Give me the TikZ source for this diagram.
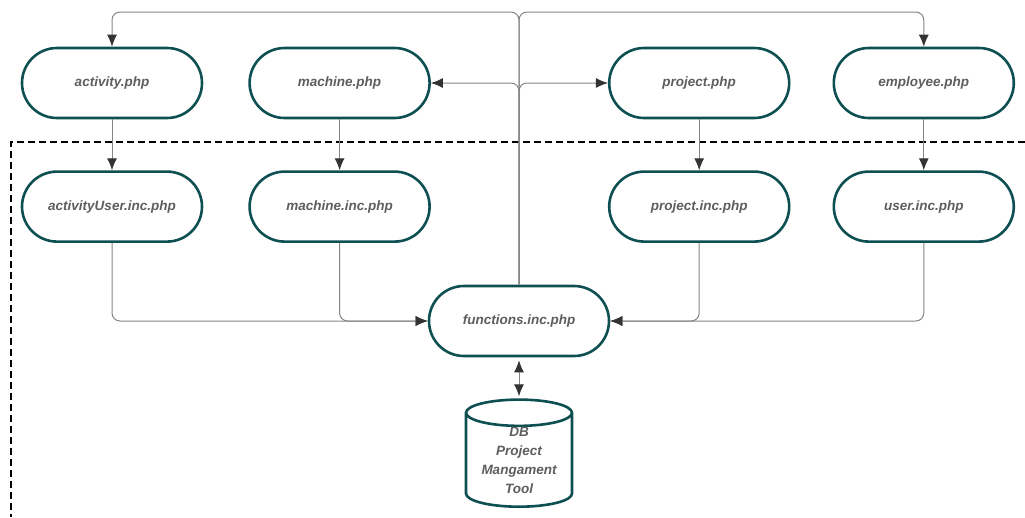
\documentclass[tikz,border=0pt]{standalone}
\usepackage{fontspec}
\setmainfont{Liberation Sans}
\usepackage{xcolor}
\usetikzlibrary{
    arrows.meta,
    positioning,
    shapes.geometric
}
\definecolor{tealborder}{HTML}{0E4F52}
\definecolor{textgray}{HTML}{5E5E5E}
\definecolor{linegray}{HTML}{858585}
\definecolor{tipgray}{HTML}{333333}

\begin{document}
\begin{tikzpicture}[
        x=1pt, y=-1pt,
        node distance=51pt and 45pt,
        page/.style={
            rectangle,
            rounded corners=35pt,
            draw=tealborder,
            line width=2.6pt,
            fill=white,
            text=textgray,
            font=\fontsize{13.5}{16}\selectfont\bfseries\itshape,
            align=center,
            minimum width=180pt,
            minimum height=70pt
        },
        db/.style={
            cylinder,
            shape border rotate=90,
            aspect=0.35,
            draw=tealborder,
            line width=2.6pt,
            fill=white,
            text=textgray,
            font=\fontsize{13.5}{19}\selectfont\bfseries\itshape,
            align=center,
            inner sep=0pt,
            minimum width=106pt,
            minimum height=105pt
        },
        line/.style={
            draw=linegray,
            line width=1pt,
            rounded corners=8pt,
            -{Latex[length=12pt,width=10pt,color=tipgray]}
        },
        both/.style={
            line,
            {Latex[length=12pt,width=10pt,color=tipgray]}-{Latex[length=12pt,width=10pt,color=tipgray]}
        },
        frame/.style={
            line width=2pt,
            dash pattern=on 7pt off 4pt
        }
    ]

    \useasboundingbox (0,0) rectangle (1025,517);

    \draw[frame] (1025,142) -| (11,517);

    \node[page] (activity) at (112,83) {activity.php};
    \node[page, right=of activity] (machine) {machine.php};
    \node[page, right=177pt of machine] (project) {project.php};
    \node[page, right=42pt of project] (employee) {employee.php};

    \node[page, below=of activity] (activityuser) {activityUser.inc.php};
    \node[page, below=of machine] (machineinc) {machine.inc.php};
    \node[page, below=of project] (projectinc) {project.inc.php};
    \node[page, below=of employee] (userinc) {user.inc.php};

    \node[page] (functions) at (519,321) {functions.inc.php};

    \node[db, below=41pt of functions] (database)
        {DB\\Project\\Mangament\\Tool};

    \coordinate (hub) at (519,12);

    \draw[line] (functions.north) -- (hub) -| (activity.north);
    \draw[line] (functions.north) -- (hub) -| (employee.north);
    \draw[line] (functions.north) |- (machine.east);
    \draw[line] (functions.north) |- (project.west);

    \draw[line] (activity) -- (activityuser);
    \draw[line] (machine) -- (machineinc);
    \draw[line] (project) -- (projectinc);
    \draw[line] (employee) -- (userinc);

    \draw[line] (activityuser.south) |- (functions.west);
    \draw[line] (machineinc.south) |- (functions.west);
    \draw[line] (projectinc.south) |- (functions.east);
    \draw[line] (userinc.south) |- (functions.east);

    \draw[both, shorten <=3pt, shorten >=2pt] (functions) -- (database);

    \end{tikzpicture}
\end{document}
